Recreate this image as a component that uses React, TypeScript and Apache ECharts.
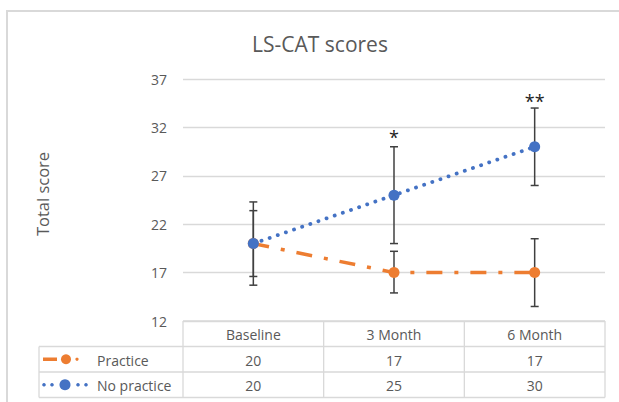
import React, { useEffect, useRef } from "react";
import * as echarts from "echarts";

const categories = ["Baseline", "3 Month", "6 Month"];
const practice = [20, 17, 17];
const noPractice = [20, 25, 30];
const practiceLow = [16.6, 14.9, 13.5];
const practiceHigh = [23.4, 19.2, 20.5];
const noPracticeLow = [15.7, 20, 26];
const noPracticeHigh = [24.3, 30, 34];
const yMin = 12;
const yMax = 37;
const yStep = 5;
const sigLabels = ["*", "**"];
const sigX = [1, 2];
const sigY = [31.3, 35.0];

const ORANGE = "#ED7D31";
const BLUE = "#4472C4";
const GRAY_TXT = "#595959";
const GRID = "#d9d9d9";
const FONT = "'Open Sans', 'Noto Sans', sans-serif";

const W = 619;
const H = 402;
const GRID_LEFT = 183;
const GRID_RIGHT = 605;
const GRID_TOP = 79;
const GRID_BOTTOM = 321;
const ROW_H = 25.5;
const LEG_LEFT = 39;

export default function App() {
  const ref = useRef<HTMLDivElement>(null);
  useEffect(() => {
    if (!ref.current) return;
    const chart = echarts.init(ref.current, undefined, { renderer: "svg" });

    const errRender = (params: any, api: any) => {
      const x = api.value(0);
      const lo = api.coord([x, api.value(1)]);
      const hi = api.coord([x, api.value(2)]);
      const w = 4;
      const style = { stroke: "#404040", lineWidth: 1.5 };
      return {
        type: "group",
        children: [
          { type: "line", shape: { x1: lo[0], y1: lo[1], x2: hi[0], y2: hi[1] }, style },
          { type: "line", shape: { x1: lo[0] - w, y1: lo[1], x2: lo[0] + w, y2: lo[1] }, style },
          { type: "line", shape: { x1: hi[0] - w, y1: hi[1], x2: hi[0] + w, y2: hi[1] }, style },
        ],
      };
    };

    const option: any = {
      animation: false,
      textStyle: { fontFamily: FONT },
      title: {
        text: "LS-CAT scores",
        left: 315,
        top: 28,
        textAlign: "center",
        textStyle: { fontFamily: FONT, fontSize: 21, fontWeight: "normal", color: GRAY_TXT },
      },
      grid: {
        left: GRID_LEFT,
        right: W - GRID_RIGHT,
        top: GRID_TOP,
        bottom: H - GRID_BOTTOM,
        containLabel: false,
      },
      xAxis: {
        type: "category",
        data: categories,
        boundaryGap: true,
        axisLine: { show: false },
        axisTick: { show: false },
        axisLabel: { show: false },
      },
      yAxis: {
        type: "value",
        min: yMin,
        max: yMax,
        interval: yStep,
        axisLine: { show: false },
        axisTick: { show: false },
        axisLabel: { color: GRAY_TXT, fontSize: 14, margin: 16, fontFamily: FONT },
        splitLine: { lineStyle: { color: GRID, width: 1.3 } },
      },
      series: [
        {
          type: "custom",
          name: "errPractice",
          renderItem: errRender,
          data: categories.map((_, i) => [i, practiceLow[i], practiceHigh[i]]),
          z: 1,
        },
        {
          type: "custom",
          name: "errNoPractice",
          renderItem: errRender,
          data: categories.map((_, i) => [i, noPracticeLow[i], noPracticeHigh[i]]),
          z: 1,
        },
        {
          type: "line",
          name: "Practice",
          data: practice,
          symbol: "circle",
          symbolSize: 11,
          itemStyle: { color: ORANGE },
          lineStyle: { color: ORANGE, width: 3.5, type: [16, 12, 4, 12], cap: "butt" },
          z: 3,
        },
        {
          type: "line",
          name: "No practice",
          data: noPractice,
          symbol: "circle",
          symbolSize: 11,
          itemStyle: { color: BLUE },
          lineStyle: { color: BLUE, width: 3.8, type: [0.1, 8.5], cap: "round" },
          z: 4,
        },
        {
          type: "custom",
          name: "sig",
          renderItem: (params: any, api: any) => {
            const p = api.coord([api.value(0), api.value(1)]);
            return {
              type: "text",
              x: p[0],
              y: p[1] + 3,
              style: {
                text: sigLabels[params.dataIndex],
                fill: "#222",
                fontSize: 18,
                fontFamily: FONT,
                align: "center",
                verticalAlign: "middle",
              },
            };
          },
          data: sigX.map((x, i) => [x, sigY[i]]),
          z: 5,
        },
      ],
    };
    chart.setOption(option);

    // Data table drawn below the plot
    const colCenters = categories.map((_, i) => chart.convertToPixel({ xAxisIndex: 0 }, i) as number);
    const band = (GRID_RIGHT - GRID_LEFT) / categories.length;
    const lineStyle = { stroke: GRID, lineWidth: 1.3 };
    const y0 = GRID_BOTTOM;
    const y1 = y0 + ROW_H;
    const y2 = y1 + ROW_H;
    const y3 = y2 + ROW_H;
    const g: any[] = [];
    // frame
    g.push({ type: "rect", shape: { x: 7, y: 11, width: 700, height: 500 }, style: { fill: "none", stroke: "#d9d9d9", lineWidth: 2 }, silent: true });
    // y axis title
    g.push({
      type: "text",
      x: 42,
      y: 194,
      rotation: Math.PI / 2,
      style: { text: "Total score", fill: GRAY_TXT, fontSize: 16.5, fontFamily: FONT, align: "center", verticalAlign: "middle" },
    });
    // horizontal lines
    g.push({ type: "line", shape: { x1: GRID_LEFT, y1: y0, x2: GRID_RIGHT, y2: y0 }, style: lineStyle });
    [y1, y2, y3].forEach((yy) =>
      g.push({ type: "line", shape: { x1: LEG_LEFT, y1: yy, x2: GRID_RIGHT, y2: yy }, style: lineStyle })
    );
    // vertical lines
    g.push({ type: "line", shape: { x1: LEG_LEFT, y1: y1, x2: LEG_LEFT, y2: y3 }, style: lineStyle });
    for (let i = 0; i <= categories.length; i++) {
      const xx = GRID_LEFT + i * band;
      g.push({ type: "line", shape: { x1: xx, y1: y0, x2: xx, y2: y3 }, style: lineStyle });
    }
    const txt = (text: string, x: number, y: number, align = "center") => ({
      type: "text",
      x,
      y,
      style: { text, fill: GRAY_TXT, fontSize: 14, fontFamily: FONT, align, verticalAlign: "middle" },
    });
    categories.forEach((c, i) => {
      g.push(txt(c, colCenters[i], (y0 + y1) / 2 + 1));
      g.push(txt(String(practice[i]), colCenters[i], (y1 + y2) / 2 + 1));
      g.push(txt(String(noPractice[i]), colCenters[i], (y2 + y3) / 2 + 1));
    });
    g.push(txt("Practice", 97, (y1 + y2) / 2 + 1, "left"));
    g.push(txt("No practice", 97, (y2 + y3) / 2 + 1, "left"));
    // legend keys
    const r1 = (y1 + y2) / 2;
    const r2 = (y2 + y3) / 2;
    g.push({ type: "line", shape: { x1: 43, y1: r1, x2: 57, y2: r1 }, style: { stroke: ORANGE, lineWidth: 3.5 } });
    g.push({ type: "circle", shape: { cx: 66, cy: r1, r: 5 }, style: { fill: ORANGE } });
    g.push({ type: "circle", shape: { cx: 77, cy: r1, r: 1.6 }, style: { fill: ORANGE } });
    [44, 52].forEach((cx) => g.push({ type: "circle", shape: { cx, cy: r2, r: 1.8 }, style: { fill: BLUE } }));
    g.push({ type: "circle", shape: { cx: 65, cy: r2, r: 5.5 }, style: { fill: BLUE } });
    [78, 86].forEach((cx) => g.push({ type: "circle", shape: { cx, cy: r2, r: 1.8 }, style: { fill: BLUE } }));
    chart.setOption({ graphic: g });

    return () => chart.dispose();
  }, []);
  return <div ref={ref} style={{ position: "absolute", left: 0, top: 0, width: W, height: H, background: "#fff" }} />;
}
